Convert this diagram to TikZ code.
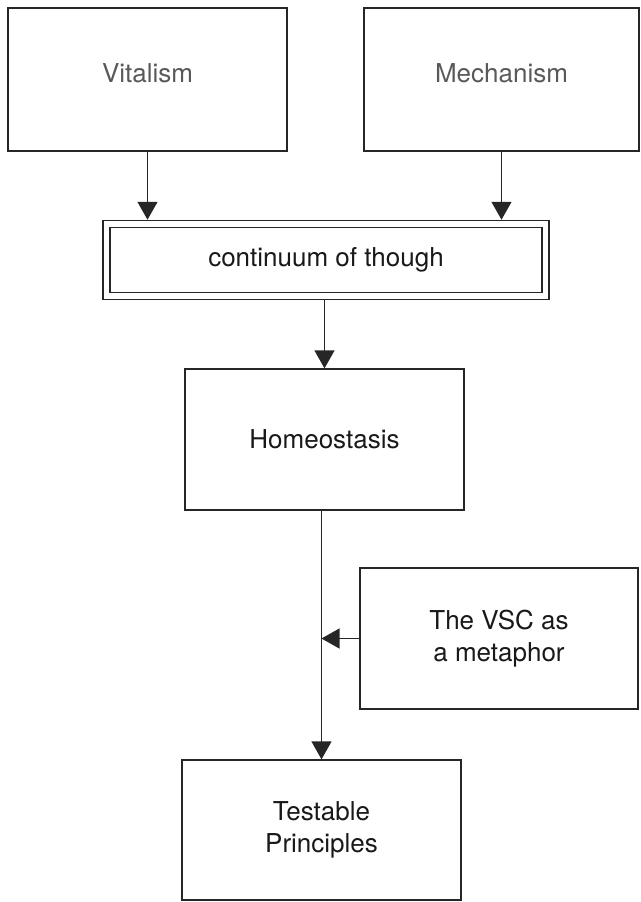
\documentclass[tikz,border=0pt]{standalone}
\usepackage{fontspec}
\setmainfont{TeX Gyre Heros}
\usetikzlibrary{arrows.meta}
\begin{document}
\begin{tikzpicture}[x=1pt,y=-1pt,
  box/.style={draw=black!85, line width=1.3pt, rectangle, inner sep=0pt,
    align=center, text=black!90, font=\fontsize{26}{32}\selectfont},
  lightbox/.style={box, text=black!65, text depth=13pt},
  dblbox/.style={box, double=white, double distance=5.7pt, outer sep=4pt},
  arr/.style={draw=black!85, line width=1.3pt, -{Triangle[length=18pt,width=20pt]}}
]
\useasboundingbox (0,0) rectangle (640,902);
\fill[white] (0,0) rectangle (640,902);

\node[lightbox, minimum width=279pt, minimum height=143pt] (vit) at (147.5,79.5) {Vitalism};
\node[lightbox, minimum width=275pt, minimum height=143pt] (mech) at (501.5,79.5) {Mechanism};
\node[dblbox, minimum width=439pt, minimum height=72.5pt] (cont) at (326,260) {continuum of though};
\node[box, minimum width=279pt, minimum height=141pt] (homeo) at (324.5,439.5) {Homeostasis};
\node[box, minimum width=278pt, minimum height=141pt] (vsc) at (499,638.5) {The VSC as\\a metaphor};
\node[box, minimum width=279pt, minimum height=140pt] (test) at (321.5,830) {Testable\\Principles};

\draw[arr] (vit.south) -- (vit.south |- cont.north);
\draw[arr] (mech.south) -- (mech.south |- cont.north);
\draw[arr] (homeo.north |- cont.south) -- (homeo.north);
\draw[arr] (test.north |- homeo.south) -- (test.north);
\draw[arr] (vsc.west) -- (test.north |- vsc.west);
\end{tikzpicture}
\end{document}
